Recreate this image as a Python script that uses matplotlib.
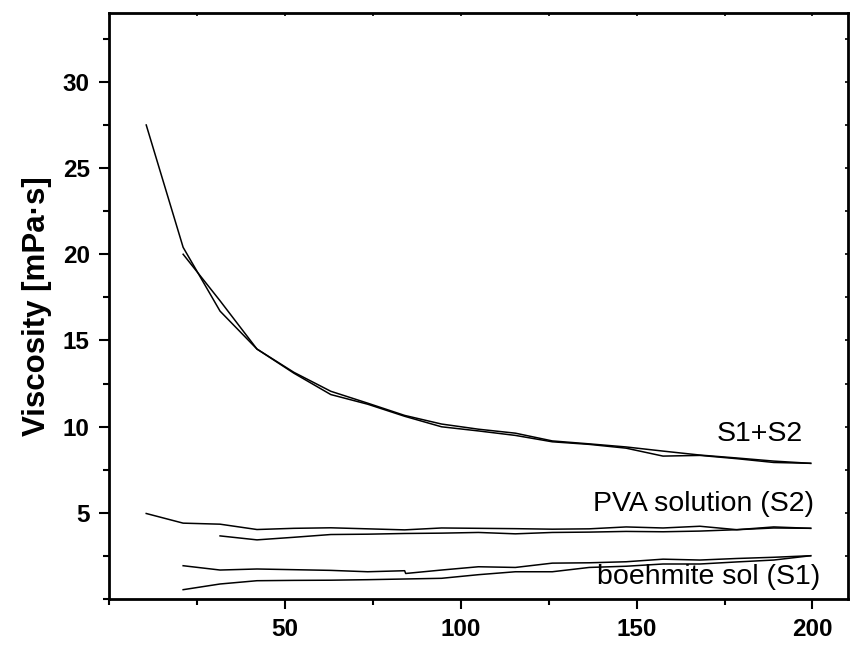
import matplotlib
matplotlib.use("Agg")
import matplotlib.pyplot as plt
from matplotlib.ticker import MultipleLocator

plt.rcParams["font.family"] = ["Liberation Sans", "DejaVu Sans"]

# shear rate steps
x_full = [10.5, 21, 31.5, 42, 52.5, 63, 73.5, 84, 94.5, 105, 115.5, 126,
          136.5, 147, 157.5, 168, 178.5, 189, 199.5]

# S1+S2 mixture, two runs
mix_a = [27.5, 20.4, 16.7, 14.5, 13.1, 11.86, 11.3, 10.6, 9.99, 9.75, 9.49,
         9.12, 8.97, 8.75, 8.29, 8.33, 8.14, 7.92, 7.87]
mix_b = [20.0, 17.3, 14.5, 13.15, 12.05, 11.36, 10.65, 10.15, 9.85, 9.62,
         9.17, 9.0, 8.82, 8.58, 8.35, 8.18, 8.0, 7.87]

# PVA solution (S2), two runs
pva_a = [4.96, 4.40, 4.34, 4.03, 4.10, 4.13, 4.07, 4.01, 4.12, 4.10, 4.08,
         4.05, 4.07, 4.18, 4.12, 4.22, 4.02, 4.18, 4.10]
pva_b = [3.66, 3.43, 3.58, 3.74, 3.76, 3.80, 3.82, 3.86, 3.78, 3.86, 3.88,
         3.92, 3.90, 3.94, 4.02, 4.12, 4.10]

# boehmite sol (S1), two runs
x_boe_a = [21, 31.5, 42, 52.5, 63, 73.5, 84, 84.3, 94.5, 105, 115.5, 126,
           136.5, 147, 157.5, 168, 178.5, 189, 199.5]
boe_a = [1.93, 1.68, 1.74, 1.70, 1.66, 1.58, 1.64, 1.48, 1.68, 1.87, 1.83,
         2.08, 2.10, 2.16, 2.31, 2.26, 2.35, 2.42, 2.51]
boe_b = [0.54, 0.87, 1.06, 1.08, 1.09, 1.12, 1.16, 1.20, 1.41, 1.58, 1.58,
         1.83, 1.90, 2.03, 2.03, 2.15, 2.26, 2.51]

fig = plt.figure(figsize=(8.56, 6.57), dpi=100)
ax = fig.add_axes([0.1277, 0.0883, 0.8625, 0.892])

lw = 1.1
ax.plot(x_full, mix_a, color="black", lw=lw)
ax.plot(x_full[1:], mix_b, color="black", lw=lw)
ax.plot(x_full, pva_a, color="black", lw=lw)
ax.plot(x_full[2:], pva_b, color="black", lw=lw)
ax.plot(x_boe_a, boe_a, color="black", lw=lw)
ax.plot(x_full[1:], boe_b, color="black", lw=lw)

ax.text(197.2, 9.6, "S1+S2", ha="right", va="center", fontsize=20.5)
ax.text(200.4, 5.5, "PVA solution (S2)", ha="right", va="center", fontsize=20.5)
ax.text(202.3, 1.25, "boehmite sol (S1)", ha="right", va="center", fontsize=20.5)

ax.set_xlim(0, 210)
ax.set_ylim(0, 34)
ax.set_xticks([50, 100, 150, 200])
ax.set_yticks([5, 10, 15, 20, 25, 30])
ax.xaxis.set_minor_locator(MultipleLocator(25))
ax.yaxis.set_minor_locator(MultipleLocator(2.5))

for s in ax.spines.values():
    s.set_linewidth(2)
ax.tick_params(which="major", direction="out", length=7, width=1.5,
               labelsize=17.5, pad=7)
ax.tick_params(which="minor", direction="out", length=4.5, width=1.5)
for t in ax.get_xticklabels() + ax.get_yticklabels():
    t.set_fontweight("bold")

# tiny inward ticks on the top and right frame
top = ax.secondary_xaxis("top")
top.set_xticks([25, 50, 75, 100, 125, 150, 175, 200])
top.tick_params(direction="in", length=2.5, width=1.2, labeltop=False)
right = ax.secondary_yaxis("right")
right.set_yticks([2.5 * i for i in range(1, 14)])
right.tick_params(direction="in", length=2.5, width=1.2, labelright=False)

ax.set_ylabel("Viscosity [mPa·s]", fontsize=22.5, fontweight="bold", labelpad=8)

fig.savefig("out.png", dpi=100)
